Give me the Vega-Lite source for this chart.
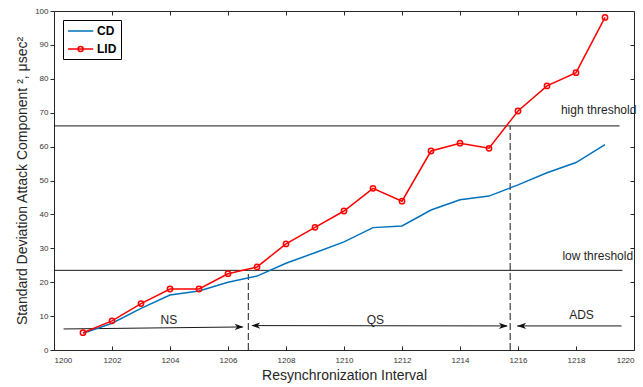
{
  "$schema": "https://vega.github.io/schema/vega-lite/v6.json",
  "width": 580,
  "height": 339,
  "autosize": {"type": "none"},
  "padding": {"left": 54, "top": 11, "right": 9, "bottom": 37},
  "background": "white",
  "config": {
    "view": {"stroke": "#262626", "strokeWidth": 1},
    "font": "Liberation Sans",
    "axis": {
      "grid": false,
      "domain": false,
      "tickColor": "#262626",
      "labelColor": "#333333",
      "labelFontSize": 8,
      "labelFont": "Liberation Sans",
      "titleFont": "Liberation Sans",
      "titleFontSize": 14,
      "titleFontWeight": "normal",
      "titleColor": "#262626"
    }
  },
  "datasets": {
    "series": [
      {"series": "CD", "x": 1201, "y": 4.9},
      {"series": "CD", "x": 1202, "y": 7.9},
      {"series": "CD", "x": 1203, "y": 12.3},
      {"series": "CD", "x": 1204, "y": 16.2},
      {"series": "CD", "x": 1205, "y": 17.4},
      {"series": "CD", "x": 1206, "y": 20.0},
      {"series": "CD", "x": 1207, "y": 21.8},
      {"series": "CD", "x": 1208, "y": 25.6},
      {"series": "CD", "x": 1209, "y": 28.7},
      {"series": "CD", "x": 1210, "y": 31.9},
      {"series": "CD", "x": 1211, "y": 36.1},
      {"series": "CD", "x": 1212, "y": 36.6},
      {"series": "CD", "x": 1213, "y": 41.3},
      {"series": "CD", "x": 1214, "y": 44.3},
      {"series": "CD", "x": 1215, "y": 45.4},
      {"series": "CD", "x": 1216, "y": 48.7},
      {"series": "CD", "x": 1217, "y": 52.3},
      {"series": "CD", "x": 1218, "y": 55.3},
      {"series": "CD", "x": 1219, "y": 60.6},
      {"series": "LID", "x": 1201, "y": 5.1},
      {"series": "LID", "x": 1202, "y": 8.6},
      {"series": "LID", "x": 1203, "y": 13.7},
      {"series": "LID", "x": 1204, "y": 18.0},
      {"series": "LID", "x": 1205, "y": 18.0},
      {"series": "LID", "x": 1206, "y": 22.5},
      {"series": "LID", "x": 1207, "y": 24.5},
      {"series": "LID", "x": 1208, "y": 31.3},
      {"series": "LID", "x": 1209, "y": 36.2},
      {"series": "LID", "x": 1210, "y": 41.0},
      {"series": "LID", "x": 1211, "y": 47.7},
      {"series": "LID", "x": 1212, "y": 43.9},
      {"series": "LID", "x": 1213, "y": 58.7},
      {"series": "LID", "x": 1214, "y": 61.0},
      {"series": "LID", "x": 1215, "y": 59.5},
      {"series": "LID", "x": 1216, "y": 70.5},
      {"series": "LID", "x": 1217, "y": 77.9},
      {"series": "LID", "x": 1218, "y": 81.8},
      {"series": "LID", "x": 1219, "y": 98.1}
    ],
    "thresholds": [
      {"x": 1200.0, "x2": 1219.5, "y": 66.1},
      {"x": 1200.0, "x2": 1219.6, "y": 23.5}
    ],
    "dividers": [
      {"x": 1206.7, "y": 0, "y2": 22.4},
      {"x": 1215.73, "y": 0, "y2": 66.1}
    ],
    "arrows": [
      {"x": 1200.33, "y": 6.2, "x2": 1206.5, "y2": 6.8},
      {"x": 1206.85, "y": 7.2, "x2": 1215.62, "y2": 7.1},
      {"x": 1215.97, "y": 7.1, "x2": 1219.57, "y2": 7.1}
    ],
    "headsRight": [
      {"x": 1206.54, "y": 6.8},
      {"x": 1215.65, "y": 7.1}
    ],
    "headsLeft": [
      {"x": 1206.8, "y": 7.2},
      {"x": 1215.97, "y": 7.1}
    ],
    "labels": [
      {"text": "high threshold", "x": 1218.78, "y": 70.8},
      {"text": "low threshold", "x": 1218.75, "y": 27.8},
      {"text": "NS", "x": 1203.96, "y": 8.85},
      {"text": "QS", "x": 1211.08, "y": 8.85},
      {"text": "ADS", "x": 1218.19, "y": 10.3}
    ]
  },
  "layer": [
    {
      "data": {"name": "thresholds"},
      "mark": {"type": "rule", "color": "#1a1a1a", "strokeWidth": 1},
      "encoding": {
        "x": {"field": "x", "type": "quantitative", "scale": {"domain": [1200, 1220]},
          "axis": {"orient": "top", "values": [1202, 1204, 1206, 1208, 1210, 1212, 1214, 1216, 1218], "labels": false, "title": null, "tickSize": -4}},
        "x2": {"field": "x2"},
        "y": {"field": "y", "type": "quantitative", "scale": {"domain": [0, 100]},
          "axis": {"orient": "right", "values": [10, 20, 30, 40, 50, 60, 70, 80, 90], "labels": false, "title": null, "tickSize": -4}}
      }
    },
    {
      "data": {"name": "dividers"},
      "mark": {"type": "rule", "color": "#1a1a1a", "strokeWidth": 1, "strokeDash": [7, 3]},
      "encoding": {
        "x": {"field": "x", "type": "quantitative", "scale": {"domain": [1200, 1220]}, "axis": null},
        "y": {"field": "y", "type": "quantitative", "scale": {"domain": [0, 100]}, "axis": null},
        "y2": {"field": "y2"}
      }
    },
    {
      "data": {"name": "arrows"},
      "mark": {"type": "rule", "color": "#1a1a1a", "strokeWidth": 1},
      "encoding": {
        "x": {"field": "x", "type": "quantitative", "scale": {"domain": [1200, 1220]}, "axis": null},
        "x2": {"field": "x2"},
        "y": {"field": "y", "type": "quantitative", "scale": {"domain": [0, 100]}, "axis": null},
        "y2": {"field": "y2"}
      }
    },
    {
      "data": {"name": "headsRight"},
      "mark": {"type": "point", "filled": true, "color": "#111111", "opacity": 1, "size": 324, "shape": "M0,0 L-1,-0.35 L-0.72,0 L-1,0.35 Z"},
      "encoding": {
        "x": {"field": "x", "type": "quantitative", "scale": {"domain": [1200, 1220]}, "axis": null},
        "y": {"field": "y", "type": "quantitative", "scale": {"domain": [0, 100]}, "axis": null}
      }
    },
    {
      "data": {"name": "headsLeft"},
      "mark": {"type": "point", "filled": true, "color": "#111111", "opacity": 1, "size": 324, "shape": "M0,0 L1,-0.35 L0.72,0 L1,0.35 Z"},
      "encoding": {
        "x": {"field": "x", "type": "quantitative", "scale": {"domain": [1200, 1220]}, "axis": null},
        "y": {"field": "y", "type": "quantitative", "scale": {"domain": [0, 100]}, "axis": null}
      }
    },
    {
      "data": {"name": "labels"},
      "mark": {"type": "text", "fontSize": 12, "color": "#262626", "align": "center", "baseline": "middle", "font": "Liberation Sans"},
      "encoding": {
        "x": {"field": "x", "type": "quantitative", "scale": {"domain": [1200, 1220]}, "axis": null},
        "y": {"field": "y", "type": "quantitative", "scale": {"domain": [0, 100]}, "axis": null},
        "text": {"field": "text"}
      }
    },
    {
      "data": {"name": "series"},
      "mark": {"type": "line", "strokeWidth": 1.5},
      "encoding": {
        "x": {"field": "x", "type": "quantitative", "scale": {"domain": [1200, 1220]},
          "axis": {"values": [1200, 1202, 1204, 1206, 1208, 1210, 1212, 1214, 1216, 1218, 1220], "format": "d", "title": "Resynchronization Interval", "tickSize": -4, "labelPadding": 10, "titlePadding": 4}},
        "y": {"field": "y", "type": "quantitative", "scale": {"domain": [0, 100]},
          "axis": {"values": [0, 10, 20, 30, 40, 50, 60, 70, 80, 90, 100], "format": "d", "title": "Standard Deviation Attack Component ², μsec²", "tickSize": 4, "labelPadding": 2, "titlePadding": 5}},
        "color": {"field": "series", "type": "nominal",
          "scale": {"domain": ["CD", "LID"], "range": ["#0072BD", "#FF0000"]},
          "legend": {
            "title": null,
            "orient": "top-left",
            "offset": 9,
            "padding": 4,
            "strokeColor": "#000000",
            "fillColor": "#ffffff",
            "labelFont": "Liberation Sans",
            "labelFontSize": 12,
            "labelFontWeight": "bold",
            "labelColor": "#000000",
            "symbolSize": 144,
            "symbolStrokeWidth": 1.5,
            "labelOffset": 16,
            "rowPadding": 5,
            "encode": {
              "symbols": {
                "update": {
                  "shape": {"signal": "datum.value === 'LID' ? 'M-1,0 L3.2,0 M1.52,0 A0.42,0.42 0 1,1 0.68,0 A0.42,0.42 0 1,1 1.52,0' : 'M-1,0 L3.2,0'"},
                  "fill": {"value": "transparent"}
                }
              }
            }
          }
        }
      }
    },
    {
      "data": {"name": "series"},
      "transform": [{"filter": "datum.series === 'LID'"}],
      "mark": {"type": "point", "filled": false, "color": "#FF0000", "size": 28, "strokeWidth": 1.5, "opacity": 1},
      "encoding": {
        "x": {"field": "x", "type": "quantitative", "scale": {"domain": [1200, 1220]}, "axis": null},
        "y": {"field": "y", "type": "quantitative", "scale": {"domain": [0, 100]}, "axis": null}
      }
    }
  ],
  "resolve": {"axis": {"x": "independent", "y": "independent"}}
}
